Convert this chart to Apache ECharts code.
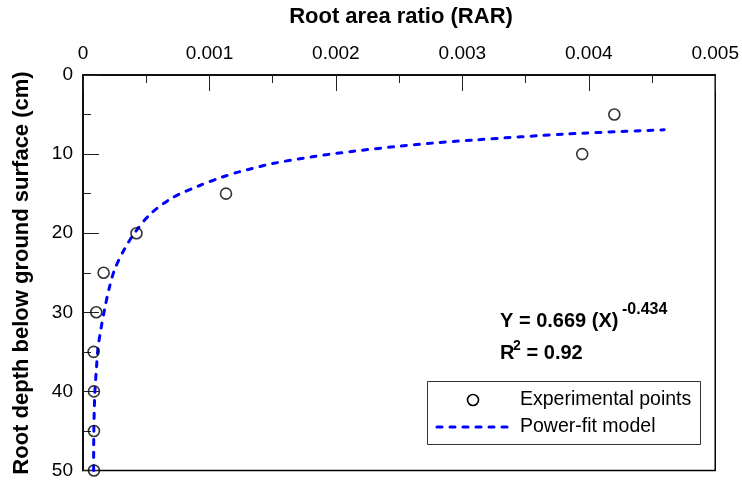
<!DOCTYPE html>
<html>
<head>
<meta charset="utf-8">
<script src="https://cdn.jsdelivr.net/npm/echarts@6/dist/echarts.min.js"></script>
<style>
  html, body { margin: 0; padding: 0; background: #fff; }
  #chart { width: 742px; height: 480px; }
</style>
</head>
<body>
<div id="chart"></div>
<script>
// Measured root area ratio at each depth below the ground surface
const rarValues = [0.004202, 0.003948, 0.001131, 0.000423, 0.000163, 0.000105, 0.000084, 0.0000866, 0.0000866, 0.0000866];
const depthValues = [5, 10, 15, 20, 25, 30, 35, 40, 45, 50];

// Power-fit model curve, sampled along its trace
const fitRar = [0.000084, 0.0000845, 0.000086, 0.0000895, 0.000095, 0.000106, 0.000118, 0.000142, 0.000171, 0.000205,
                0.00025, 0.000328, 0.00042, 0.000538, 0.000709, 0.000919, 0.001102, 0.001234, 0.001499, 0.001814,
                0.002142, 0.00247, 0.002772, 0.003087, 0.003835, 0.004596];
const fitDepth = [50, 47.2, 44.7, 42.2, 39.7, 37.2, 34.6, 32.1, 29.6, 27.1,
                  24.6, 22.0, 19.7, 17.5, 15.5, 14.0, 12.9, 12.25, 11.2, 10.33,
                  9.63, 9.05, 8.6, 8.22, 7.45, 6.93];

// Axis tick values
const rarTicks = [0, 0.001, 0.002, 0.003, 0.004, 0.005];
const depthTicks = [0, 10, 20, 30, 40, 50];

const FONT = '"Liberation Sans", Arial, sans-serif';

const chart = echarts.init(document.getElementById('chart'), null, { renderer: 'canvas' });

const points = rarValues.map((v, i) => [v, depthValues[i]]);
const fitLine = fitRar.map((v, i) => [v, fitDepth[i]]);

chart.setOption({
  animation: false,
  backgroundColor: '#fff',
  grid: {
    left: 83, right: 24, top: 75, bottom: 8,
    show: true, borderColor: '#000', borderWidth: 1.5, backgroundColor: 'transparent'
  },
  xAxis: {
    type: 'value',
    position: 'top',
    min: rarTicks[0],
    max: rarTicks[rarTicks.length - 1],
    interval: rarTicks[1] - rarTicks[0],
    axisLine: { show: true, lineStyle: { color: '#000', width: 1.5 } },
    axisTick: { show: true, inside: true, length: 16, lineStyle: { color: '#222', width: 1 } },
    minorTick: { show: true, splitNumber: 2, length: 8, lineStyle: { color: '#222', width: 1 } },
    splitLine: { show: false },
    axisLabel: {
      color: '#000', fontFamily: FONT, fontSize: 19, margin: 12,
      formatter: v => (v === 0 ? '0' : v.toFixed(3))
    }
  },
  yAxis: {
    type: 'value',
    inverse: true,
    min: depthTicks[0],
    max: depthTicks[depthTicks.length - 1],
    interval: depthTicks[1] - depthTicks[0],
    axisLine: { show: true, lineStyle: { color: '#000', width: 1.5 } },
    axisTick: { show: true, inside: true, length: 16, lineStyle: { color: '#222', width: 1 } },
    minorTick: { show: true, splitNumber: 2, length: 8, lineStyle: { color: '#222', width: 1 } },
    splitLine: { show: false },
    axisLabel: { color: '#000', fontFamily: FONT, fontSize: 19, margin: 10 }
  },
  series: [
    {
      name: 'Power-fit model',
      type: 'line',
      data: fitLine,
      showSymbol: false,
      smooth: 0.3,
      lineStyle: { color: '#0000ff', width: 3, type: [5, 8], cap: 'round' },
      z: 2
    },
    {
      name: 'Experimental points',
      type: 'scatter',
      data: points,
      symbol: 'circle',
      symbolSize: 11,
      itemStyle: { color: 'rgba(0,0,0,0)', borderColor: '#000', borderWidth: 1.6 },
      z: 3
    }
  ],
  graphic: [
    // axis titles
    { type: 'text', x: 401, y: 17, style: { text: 'Root area ratio (RAR)', font: 'bold 22px ' + FONT, fill: '#000', align: 'center', verticalAlign: 'middle' } },
    { type: 'text', x: 22, y: 273, rotation: Math.PI / 2, style: { text: 'Root depth below ground surface (cm)', font: 'bold 22px ' + FONT, fill: '#000', align: 'center', verticalAlign: 'middle' } },
    // fit equation
    { type: 'text', x: 500, y: 321, style: { text: 'Y = 0.669 (X)', font: 'bold 20px ' + FONT, fill: '#000', align: 'left', verticalAlign: 'middle' } },
    { type: 'text', x: 622, y: 310, style: { text: '-0.434', font: 'bold 16px ' + FONT, fill: '#000', align: 'left', verticalAlign: 'middle' } },
    { type: 'text', x: 500, y: 353, style: { text: 'R', font: 'bold 20px ' + FONT, fill: '#000', align: 'left', verticalAlign: 'middle' } },
    { type: 'text', x: 513, y: 346, style: { text: '2', font: 'bold 14px ' + FONT, fill: '#000', align: 'left', verticalAlign: 'middle' } },
    { type: 'text', x: 521, y: 353, style: { text: ' = 0.92', font: 'bold 20px ' + FONT, fill: '#000', align: 'left', verticalAlign: 'middle' } },
    // legend box
    { type: 'rect', shape: { x: 427.5, y: 381.5, width: 273, height: 63 }, style: { fill: '#fff', stroke: '#333', lineWidth: 1 }, z: 10 },
    { type: 'circle', shape: { cx: 473, cy: 400, r: 5.5 }, style: { fill: 'none', stroke: '#000', lineWidth: 1.6 }, z: 11 },
    { type: 'line', shape: { x1: 437, y1: 427, x2: 508, y2: 427 }, style: { stroke: '#0000ff', lineWidth: 3, lineDash: [5, 8], lineCap: 'round' }, z: 11 },
    { type: 'text', x: 520, y: 400, style: { text: 'Experimental points', font: '19.5px ' + FONT, fill: '#000', align: 'left', verticalAlign: 'middle' }, z: 11 },
    { type: 'text', x: 520, y: 427, style: { text: 'Power-fit model', font: '19.5px ' + FONT, fill: '#000', align: 'left', verticalAlign: 'middle' }, z: 11 }
  ]
});
</script>
</body>
</html>
